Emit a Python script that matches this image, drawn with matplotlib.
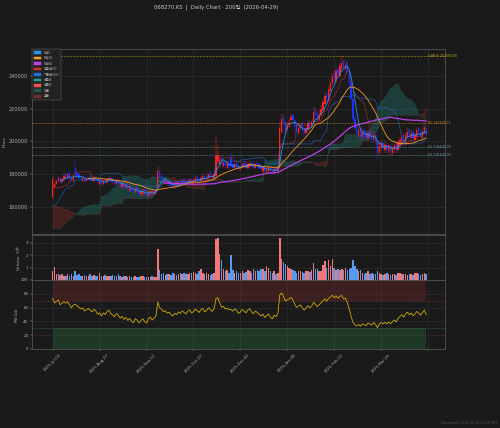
import numpy as np
import pandas as pd
import matplotlib
matplotlib.use('Agg')
import matplotlib.pyplot as plt
from matplotlib.patches import Patch

plt.rcParams['font.family'] = ['DejaVu Sans', 'Noto Sans CJK KR']

title = '068270.KS  |  Daily Chart · 200일  (2026-04-29)'
footer = 'Generated: 2026-04-29 06:49 KST'

# closes before the shown window (only used to warm up Ichimoku / RSI), thousand won
hist_close = [182, 181, 183, 180, 178, 179, 177, 176, 178, 175,
              174, 175, 173, 172, 170, 171, 169, 168, 167, 168,
              166, 165, 164, 162, 163, 161, 160, 158, 159, 157,
              156, 157, 155, 154, 152, 153, 151, 150, 151, 149,
              148, 149, 147, 148, 146, 147, 145, 146, 144, 145,
              146, 144, 145, 143, 144, 142, 143, 145, 148, 152,
              156, 158, 161, 163, 162, 165, 164, 166, 165, 167,
              166, 168, 167, 169, 168, 166, 167, 169, 168, 167]

# shown window, 200 trading days, thousand won
open_k = [166, 172, 174, 176, 178, 175, 177, 180, 178, 181,
          178, 176, 184, 181, 180, 178, 176, 178, 176, 177,
          179, 177, 176, 178, 177, 174, 176, 174, 177, 175,
          177, 178, 177, 175, 174, 177, 175, 172, 174, 172,
          173, 170, 172, 171, 169, 172, 170, 168, 168, 171,
          168, 167, 168, 170, 168, 169, 172, 182, 179, 177,
          175, 176, 174, 175, 174, 172, 175, 173, 176, 174,
          177, 176, 174, 175, 177, 174, 176, 179, 177, 176,
          177, 179, 177, 178, 181, 179, 178, 179, 188, 186,
          190, 185, 187, 184, 187, 190, 186, 184, 187, 185,
          183, 184, 187, 186, 184, 185, 187, 186, 184, 187,
          186, 185, 182, 184, 181, 182, 184, 183, 181, 184,
          182, 184, 206, 215, 212, 207, 209, 213, 216, 213,
          210, 205, 208, 211, 208, 205, 207, 212, 209, 211,
          219, 217, 213, 216, 219, 223, 229, 225, 231, 235,
          241, 237, 244, 240, 245, 249, 244, 248, 243, 236,
          226, 214, 209, 204, 207, 203, 207, 205, 202, 206,
          203, 201, 204, 200, 193, 196, 199, 195, 198, 194,
          197, 193, 195, 199, 195, 198, 200, 204, 199, 203,
          207, 202, 206, 201, 203, 208, 206, 202, 205, 208]
high_k = [179, 176, 177, 179, 179, 178, 181, 181, 181, 182,
          179, 180, 188, 182, 181, 179, 179, 179, 178, 179,
          180, 178, 179, 179, 178, 177, 177, 177, 178, 178,
          179, 179, 178, 176, 177, 178, 176, 175, 175, 174,
          174, 173, 173, 172, 172, 173, 171, 170, 171, 172,
          169, 170, 171, 171, 170, 171, 185, 183, 180, 178,
          177, 177, 176, 176, 175, 175, 176, 176, 177, 177,
          178, 177, 177, 178, 178, 177, 179, 180, 178, 179,
          180, 180, 179, 181, 182, 180, 181, 203, 198, 192,
          191, 189, 188, 188, 188, 193, 187, 187, 188, 186,
          185, 187, 188, 187, 187, 188, 188, 187, 187, 188,
          187, 186, 185, 185, 184, 185, 185, 184, 184, 185,
          185, 212, 217, 216, 213, 212, 214, 217, 217, 214,
          211, 210, 212, 212, 209, 210, 213, 213, 214, 221,
          220, 218, 219, 222, 226, 230, 230, 234, 238, 242,
          243, 245, 246, 248, 252, 250, 249, 249, 244, 237,
          227, 215, 210, 209, 208, 208, 208, 206, 207, 207,
          204, 206, 205, 201, 199, 201, 200, 200, 199, 198,
          198, 198, 200, 200, 201, 203, 205, 205, 206, 208,
          208, 207, 207, 206, 209, 209, 207, 208, 212, 210]
low_k = [165, 171, 173, 175, 174, 174, 176, 177, 177, 177,
         175, 175, 179, 178, 177, 176, 175, 175, 175, 176,
         176, 175, 175, 176, 174, 173, 173, 173, 174, 174,
         176, 175, 174, 173, 173, 174, 172, 171, 171, 171,
         170, 169, 169, 168, 168, 169, 167, 167, 167, 167,
         166, 166, 167, 167, 167, 168, 171, 177, 176, 174,
         174, 173, 173, 172, 171, 171, 172, 172, 173, 173,
         174, 173, 173, 174, 174, 173, 175, 176, 175, 175,
         176, 176, 176, 177, 178, 177, 177, 178, 186, 184,
         185, 184, 184, 183, 184, 184, 183, 183, 184, 182,
         182, 183, 184, 183, 183, 184, 184, 183, 183, 184,
         183, 182, 181, 181, 180, 181, 181, 180, 180, 181,
         181, 183, 205, 209, 205, 205, 208, 212, 211, 207,
         203, 204, 207, 205, 203, 204, 206, 207, 208, 210,
         214, 212, 212, 215, 218, 222, 224, 224, 230, 234,
         236, 236, 239, 239, 243, 243, 242, 241, 234, 224,
         212, 206, 203, 202, 201, 201, 202, 200, 200, 201,
         199, 199, 198, 189, 191, 194, 194, 193, 193, 192,
         192, 191, 193, 193, 193, 196, 198, 198, 197, 201,
         201, 200, 200, 199, 201, 203, 201, 200, 204, 203]
close_k = [177, 174, 176, 178, 175, 177, 179, 178, 180, 178,
           176, 179, 180, 179, 178, 177, 178, 176, 177, 178,
           177, 176, 178, 177, 175, 176, 174, 176, 175, 177,
           178, 176, 175, 174, 176, 175, 173, 174, 172, 173,
           171, 172, 170, 169, 171, 170, 168, 169, 170, 168,
           167, 169, 170, 168, 169, 170, 182, 178, 177, 175,
           176, 174, 175, 173, 172, 174, 173, 175, 174, 176,
           175, 174, 176, 177, 175, 176, 178, 177, 176, 178,
           179, 177, 178, 180, 179, 178, 180, 191, 192, 189,
           186, 187, 185, 186, 185, 185, 184, 186, 185, 183,
           184, 186, 185, 184, 186, 187, 185, 184, 186, 185,
           184, 183, 184, 182, 183, 184, 182, 181, 183, 182,
           184, 208, 214, 211, 207, 210, 212, 215, 213, 209,
           206, 208, 210, 207, 205, 208, 211, 209, 212, 218,
           216, 214, 217, 220, 224, 228, 226, 232, 236, 240,
           238, 243, 241, 246, 248, 245, 247, 243, 236, 226,
           214, 208, 205, 207, 203, 206, 204, 202, 205, 203,
           201, 204, 200, 193, 197, 199, 196, 198, 195, 197,
           194, 196, 198, 195, 199, 201, 203, 200, 204, 206,
           203, 205, 202, 204, 207, 205, 203, 206, 209, 204]
# volume, millions of shares
volume_m = [0.7, 1.05, 0.5, 0.45, 0.4, 0.5, 0.35, 0.3, 0.45, 0.3,
            0.5, 0.35, 0.7, 0.4, 0.45, 0.35, 0.3, 0.4, 0.3, 0.35,
            0.45, 0.3, 0.4, 0.35, 0.3, 0.6, 0.35, 0.3, 0.4, 0.3,
            0.3, 0.35, 0.4, 0.3, 0.35, 0.45, 0.3, 0.25, 0.3, 0.35,
            0.25, 0.3, 0.2, 0.25, 0.3, 0.2, 0.25, 0.3, 0.35, 0.2,
            0.25, 0.2, 0.2, 0.3, 0.2, 0.25, 2.45, 0.8, 0.5, 0.6,
            0.4, 0.45, 0.5, 0.4, 0.55, 0.45, 0.4, 0.5, 0.6, 0.45,
            0.6, 0.5, 0.45, 0.6, 0.55, 0.65, 0.6, 0.5, 0.7, 0.9,
            0.6, 0.5, 0.55, 0.45, 0.4, 0.5, 0.6, 3.3, 3.35, 2.1,
            1.6, 0.9, 0.7, 0.8, 0.6, 2.0, 0.8, 0.6, 0.7, 0.55,
            0.6, 0.7, 0.55, 0.65, 0.8, 0.7, 0.6, 0.9, 0.75, 0.8,
            0.7, 0.85, 0.9, 0.7, 1.1, 1.0, 0.75, 0.6, 0.7, 0.5,
            0.55, 3.35, 1.7, 1.45, 1.25, 1.15, 1.0, 0.9, 0.8, 0.7,
            0.6, 0.75, 0.7, 0.65, 0.6, 0.75, 0.7, 0.65, 0.8, 1.4,
            0.9, 0.85, 0.7, 0.75, 1.2, 1.5, 1.0, 1.6, 1.1, 1.7,
            1.0, 0.8, 0.9, 0.8, 0.9, 0.8, 1.0, 0.8, 0.9, 1.0,
            1.6, 1.1, 0.9, 0.7, 0.8, 0.6, 0.5, 0.6, 0.7, 0.5,
            0.6, 0.45, 0.5, 0.7, 0.6, 0.5, 0.4, 0.45, 0.55, 0.5,
            0.4, 0.5, 0.45, 0.4, 0.55, 0.6, 0.5, 0.45, 0.5, 0.4,
            0.45, 0.5, 0.4, 0.55, 0.6, 0.45, 0.4, 0.5, 0.55, 0.45]

tick_pos = [0, 25, 50, 75, 100, 125, 150, 175, 200]
tick_labels = ['2025-Jul-03', '2025-Aug-07', '2025-Sep-12', '2025-Oct-27',
               '2025-Dec-01', '2026-Jan-08', '2026-Feb-12', '2026-Mar-25', '']

level_names = ['52W H', 'R1', 'S1', 'S2']
level_values = [252000, 211500, 196500, 191500]
level_colors = ['#c9b317', '#e08a1e', '#5f9aa8', '#5f9aa8']

# ---- indicators ----
o = np.array(open_k) * 1000.0
h = np.array(high_k) * 1000.0
l = np.array(low_k) * 1000.0
c = np.array(close_k) * 1000.0
n = len(c)
cut = len(hist_close)
x = np.arange(n)

full_h = pd.Series(np.r_[hist_close, high_k] * 1000.0)
full_l = pd.Series(np.r_[hist_close, low_k] * 1000.0)
full_c = pd.Series(np.r_[hist_close, close_k] * 1000.0)

tenkan = (full_h.rolling(9).max() + full_l.rolling(9).min()) / 2
kijun = (full_h.rolling(26).max() + full_l.rolling(26).min()) / 2
span_a = ((tenkan + kijun) / 2).shift(26)
span_b = ((full_h.rolling(52).max() + full_l.rolling(52).min()) / 2).shift(26)

delta = full_c.diff()
gain = delta.clip(lower=0).ewm(alpha=1 / 14, adjust=False).mean()
loss = (-delta.clip(upper=0)).ewm(alpha=1 / 14, adjust=False).mean()
rsi = 100 - 100 / (1 + gain / loss)

tenkan = tenkan.values[cut:]
kijun = kijun.values[cut:]
span_a = span_a.values[cut:]
span_b = span_b.values[cut:]
rsi = rsi.values[cut:]

cs = pd.Series(c)
ma5 = cs.rolling(5).mean()
ma20 = cs.rolling(20).mean()
ma60 = cs.rolling(60).mean()

# ---- figure ----
bg = '#1a1a1a'
grid_c = '#2f2f2f'
txt_c = '#b0b0b0'

fig = plt.figure(figsize=(14, 11.984), dpi=500 / 14, facecolor=bg)
ax = fig.add_axes([0.064, 0.4533, 0.826, 0.4322])
axv = fig.add_axes([0.064, 0.3458, 0.826, 0.1051])
axr = fig.add_axes([0.064, 0.1846, 0.826, 0.1612])

for a in (ax, axv, axr):
    a.set_facecolor(bg)
    for s in a.spines.values():
        s.set_color('#5a5a5a')
        s.set_linewidth(1.5)
    a.grid(color=grid_c, lw=1.2)
    a.set_axisbelow(True)
    a.tick_params(colors=txt_c, labelsize=8, length=4)
    a.set_xlim(-11, 209)
    a.set_xticks(tick_pos)

# ichimoku cloud
up_cloud = span_a >= span_b
ax.fill_between(x, span_a, span_b, where=up_cloud, interpolate=True,
                color='#26a69a', alpha=0.25, lw=0)
ax.fill_between(x, span_a, span_b, where=~up_cloud, interpolate=True,
                color='#c0392b', alpha=0.25, lw=0)
ax.plot(x, span_a, color='#26a69a', lw=1.0, ls=':', alpha=0.6)
ax.plot(x, span_b, color='#ef5350', lw=1.0, ls=':', alpha=0.6)
ax.plot(x, tenkan, color='#d32f2f', lw=1.6, alpha=0.6)
ax.plot(x, kijun, color='#1e6fd9', lw=1.6, alpha=0.6)

# candles
up = c >= o
ax.vlines(x, l, h, colors=np.where(up, '#ff2020', '#2030ff'), lw=1.0)
ax.bar(x, np.maximum(np.abs(c - o), 300), bottom=np.minimum(o, c), width=0.7,
       color=np.where(up, '#ff2020', '#2030ff'), lw=0)

ax.plot(x, ma5, color='#2196f3', lw=1.6)
ax.plot(x, ma20, color='#ff9f1a', lw=1.6)
ax.plot(x, ma60, color='#c040f0', lw=2.4)

for name, val, col in zip(level_names, level_values, level_colors):
    ax.axhline(val, color=col, ls='--', lw=1.2, alpha=0.75)
    ax.text(n, val, f'{name}: {val:.2f}', color=col, fontsize=6,
            va='center', ha='left', clip_on=False)

ax.set_ylim(143500, 256500)
ax.set_yticks([160000, 180000, 200000, 220000, 240000])
ax.set_yticklabels(['160000', '180000', '200000', '220000', '240000'])
ax.tick_params(axis='y', labelsize=10)
ax.tick_params(axis='x', labelbottom=False)
ax.set_ylabel('Price', color=txt_c, fontsize=9)

handles = [Patch(color='#2196f3', label='MA5'),
           Patch(color='#ff9f1a', label='MA20'),
           Patch(color='#c040f0', label='MA60'),
           Patch(color='#d32f2f', label='전환선(9)'),
           Patch(color='#1e6fd9', label='기준선(26)'),
           Patch(color='#26a69a', label='선행A'),
           Patch(color='#ef5350', label='선행B'),
           Patch(color='#1f5a50', label='양운'),
           Patch(color='#6e2e2e', label='음운')]
leg = ax.legend(handles=handles, loc='upper left', fontsize=6.5,
                facecolor='#222222', edgecolor='#666666', labelcolor='#aaaaaa',
                framealpha=1, borderaxespad=0.15, handlelength=2.3,
                handleheight=0.9, labelspacing=0.45, borderpad=0.4)

# volume
axv.bar(x, volume_m, width=0.8, color=np.where(up, '#f07878', '#5a9af0'), lw=0)
axv.set_ylim(0, 3.6)
axv.set_yticks([1, 2, 3])
axv.tick_params(axis='x', labelbottom=False)
axv.set_ylabel('Volume  $10^6$', color=txt_c, fontsize=8)

# rsi
axr.fill_between(x, 70, 100, color='#8b2e2e', alpha=0.3, lw=0)
axr.fill_between(x, 0, 30, color='#2e7d46', alpha=0.3, lw=0)
axr.axhline(70, color='#b04040', ls=':', lw=1.2)
axr.axhline(30, color='#3c9a5a', ls=':', lw=1.2)
axr.plot(x, rsi, color='#d4b106', lw=1.6)
axr.set_ylim(0, 100)
axr.set_yticks([0, 20, 40, 60, 80, 100])
axr.set_xticklabels(tick_labels, rotation=45, ha='center', fontsize=8)
axr.set_ylabel('RSI(14)', color=txt_c, fontsize=8)

fig.text(0.432, 0.984, title, color='#cccccc', fontsize=10.5, ha='center', va='center')
fig.text(0.995, 0.012, footer, color='#555555', fontsize=6.5, ha='right', va='center')

fig.savefig('out.png', dpi=500 / 14, facecolor=bg)
